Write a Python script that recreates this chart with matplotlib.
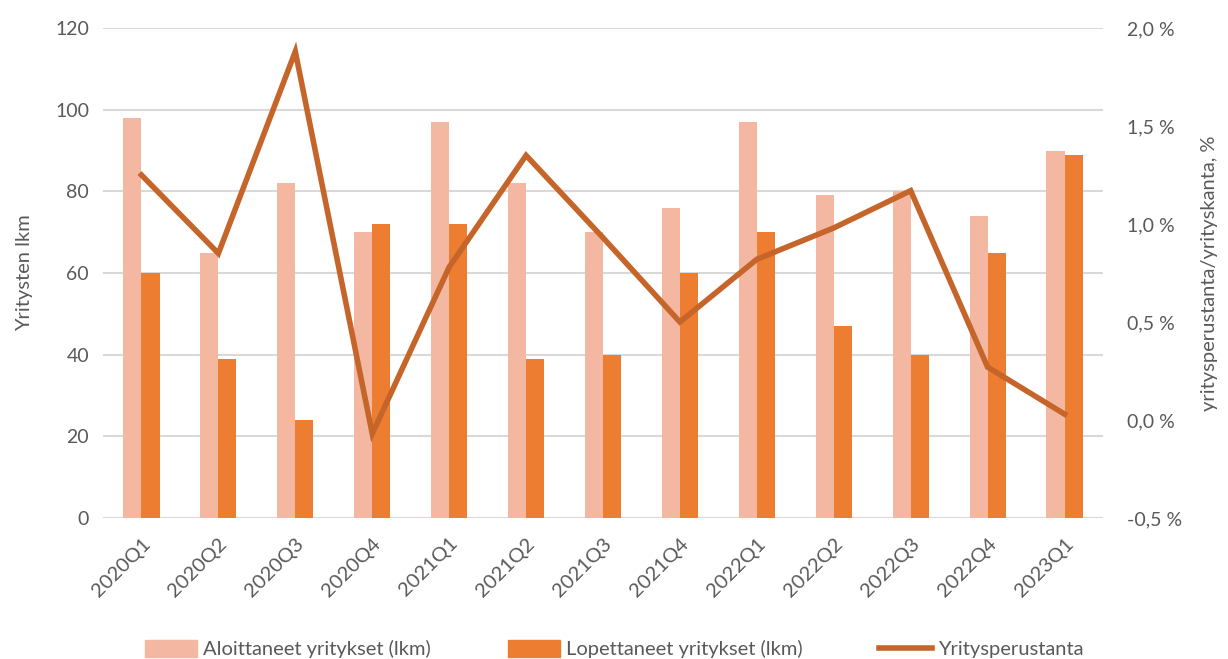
import matplotlib
matplotlib.use("Agg")
import matplotlib.pyplot as plt
import numpy as np
from matplotlib.lines import Line2D
from matplotlib.patches import Patch

categories = ["2020Q1", "2020Q2", "2020Q3", "2020Q4", "2021Q1", "2021Q2", "2021Q3",
              "2021Q4", "2022Q1", "2022Q2", "2022Q3", "2022Q4", "2023Q1"]
aloittaneet = [98, 65, 82, 70, 97, 82, 70, 76, 97, 79, 80, 74, 90]
lopettaneet = [60, 39, 24, 72, 72, 39, 40, 60, 70, 47, 40, 65, 89]
perustanta = [1.25, 0.85, 1.88, -0.07, 0.78, 1.35, 0.93, 0.50, 0.82, 0.98, 1.17, 0.27, 0.03]
left_ticks = [0, 20, 40, 60, 80, 100, 120]
right_ticks = [-0.5, 0.0, 0.5, 1.0, 1.5, 2.0]

plt.rcParams['font.family'] = ['Lato', 'DejaVu Sans']
txt = '#595959'
c_light = '#F4B7A1'
c_dark = '#ED7D31'
c_line = '#C5652A'

fig = plt.figure(figsize=(12.28, 6.59), dpi=100)
ax = fig.add_axes([103/1228, 1-518/659, 1000/1228, 490/659])
ax2 = ax.twinx()

x = np.arange(len(categories))
w = 0.235
ax.bar(x - w/2, aloittaneet, w, color=c_light, zorder=2)
ax.bar(x + w/2, lopettaneet, w, color=c_dark, zorder=2)
ax.set_xlim(-0.5, len(categories) - 0.5)
ax.set_ylim(0, 120)
ax.set_yticks(left_ticks)
ax.grid(axis='y', color='#D9D9D9', linewidth=1.5, zorder=0)
ax.set_axisbelow(True)
for s in ax.spines.values():
    s.set_visible(False)
for s in ax2.spines.values():
    s.set_visible(False)
ax.axhline(0, color='#D9D9D9', linewidth=1.5, zorder=1)
ax.tick_params(axis='y', length=0, colors=txt, labelsize=14, pad=10)
ax.set_xticks(x)
ax.set_xticklabels(categories, rotation=45, ha='right', rotation_mode='anchor')
ax.tick_params(axis='x', length=0, colors=txt, labelsize=14.5, pad=12)
ax.set_ylabel('Yritysten lkm', color=txt, fontsize=14.5, labelpad=16)

ax2.plot(x, perustanta, color=c_line, linewidth=4, solid_joinstyle='miter', zorder=3)
ax2.set_ylim(-0.5, 2.0)
ax2.set_yticks(right_ticks)
ax2.set_yticklabels([f"{v:.1f} %".replace('.', ',') for v in right_ticks])
ax2.tick_params(axis='y', length=0, colors=txt, labelsize=14, pad=17)
ax2.set_ylabel('yritysperustanta/yrityskanta, %', color=txt, fontsize=14.5, labelpad=14)

handles = [Patch(color=c_light), Patch(color=c_dark), Line2D([], [], color=c_line, linewidth=4)]
labels = ['Aloittaneet yritykset (lkm)', 'Lopettaneet yritykset (lkm)', 'Yritysperustanta']
leg = fig.legend(handles, labels, loc='center', bbox_to_anchor=(0.5, 1-649/659), ncol=3,
                 frameon=False, fontsize=14.5, handlelength=2.6, handleheight=0.9,
                 columnspacing=3.8, handletextpad=0.3)
for t in leg.get_texts():
    t.set_color(txt)

fig.savefig('out.png', dpi=100)
